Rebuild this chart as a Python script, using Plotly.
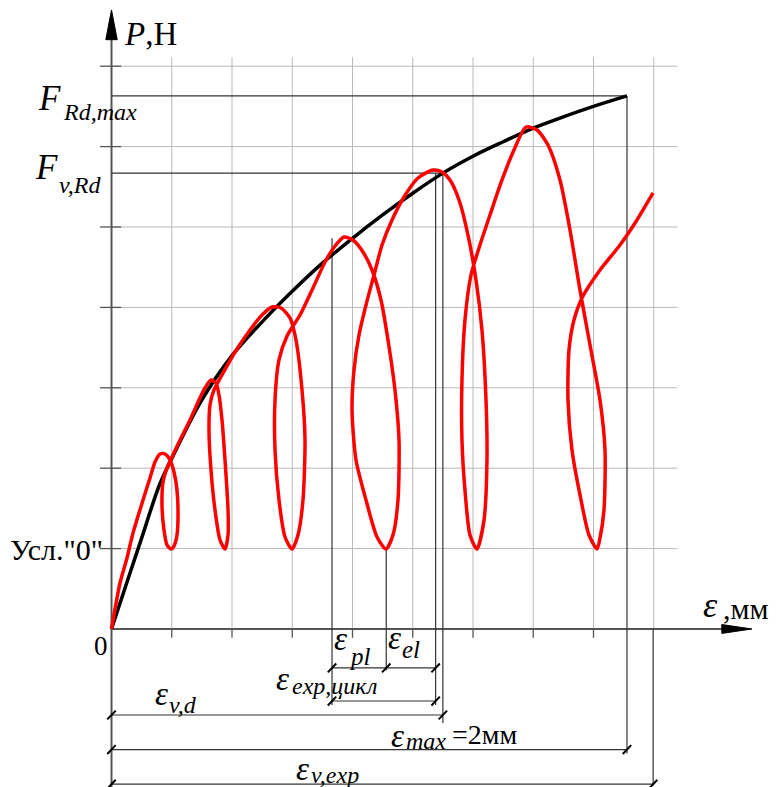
import plotly.graph_objects as go

# Chart units: 1 x-unit = one vertical grid step (deformation), 1 y-unit = one horizontal grid step (load)
black_x = [0, 0.3, 0.5, 0.8, 1.0, 1.5, 2.0, 2.5, 3.0, 3.5, 4.0, 4.5, 5.0, 5.5, 6.0, 6.5, 7.0, 7.5, 8.0, 8.556]
black_y = [0, 0.68, 1.13, 1.80, 2.12, 2.85, 3.40, 3.82, 4.20, 4.55, 4.86, 5.15, 5.42, 5.67, 5.88, 6.06, 6.23, 6.37, 6.50, 6.63]

red_x = [0, 0.141, 0.257, 0.357, 0.523, 0.639, 0.722, 0.805,
         0.888, 0.971, 1.037, 1.087, 1.104, 1.087, 1.037, 0.988,
         0.921, 0.871, 0.838, 0.855, 0.921, 1.004, 1.137, 1.303, 1.452, 1.552, 1.651,
         1.734, 1.784, 1.834, 1.884, 1.934, 1.934, 1.884,
         1.801, 1.718, 1.651, 1.618, 1.635, 1.701, 1.834, 2.050, 2.299, 2.498, 2.664,
         2.813, 2.963, 3.062, 3.162, 3.212, 3.178, 3.095, 2.996,
         2.880, 2.780, 2.714, 2.714, 2.780, 2.913, 3.129, 3.344, 3.544, 3.710, 3.859,
         4.008, 4.174, 4.324, 4.473, 4.589, 4.705, 4.772, 4.755, 4.672, 4.556,
         4.407, 4.224, 4.058, 3.992, 4.025, 4.108, 4.224, 4.357, 4.490, 4.656, 4.855, 5.087, 5.336,
         5.485, 5.618, 5.768, 5.917, 6.050, 6.149, 6.216, 6.232, 6.183, 6.066,
         5.950, 5.867, 5.817, 5.817, 5.867, 5.967, 6.116, 6.282, 6.481, 6.680, 6.880,
         7.062, 7.245, 7.444, 7.610, 7.776, 7.942, 8.108, 8.191, 8.174, 8.108, 8.058,
         7.925, 7.776, 7.643, 7.577, 7.593, 7.676, 7.809, 8.108, 8.440, 8.722, 8.988]
red_y = [0, 0.572, 0.883, 1.194, 1.604, 1.878, 2.077, 2.177,
         2.177, 2.102, 1.953, 1.729, 1.418, 1.169, 1.032, 0.995,
         1.045, 1.231, 1.542, 1.828, 2.002, 2.139, 2.351, 2.600, 2.848, 2.998, 3.097,
         3.060, 2.910, 2.600, 2.102, 1.480, 1.169, 0.995,
         1.107, 1.480, 1.978, 2.475, 2.786, 2.973, 3.159, 3.445, 3.719, 3.905, 4.005,
         3.993, 3.868, 3.595, 2.973, 2.351, 1.604, 1.169, 0.995,
         1.144, 1.604, 2.226, 2.848, 3.346, 3.644, 3.905, 4.241, 4.565, 4.764, 4.876,
         4.838, 4.689, 4.465, 4.092, 3.595, 2.973, 2.351, 1.604, 1.169, 0.995,
         1.144, 1.604, 2.102, 2.724, 3.221, 3.657, 4.030, 4.403, 4.776, 5.087, 5.373, 5.609, 5.709,
         5.684, 5.585, 5.336, 4.900, 4.341, 3.719, 2.848, 2.102, 1.356, 0.995,
         1.169, 1.729, 2.351, 3.097, 3.843, 4.403, 4.776, 5.149, 5.585, 5.958, 6.244,
         6.206, 6.020, 5.585, 4.963, 4.216, 3.532, 2.848, 2.226, 1.480, 1.132, 0.995,
         1.169, 1.667, 2.226, 2.848, 3.470, 3.843, 4.117, 4.465, 4.776, 5.087, 5.423]

grid_x = [1, 2, 3, 4, 5, 6, 7, 8, 9]
grid_y = [1, 2, 3, 4, 5, 6, 7]
x_tick_pos = [1, 2, 3, 4, 5, 6, 7, 8]
GRID_X_END = 9.39
GRID_Y_END = 7.11

F_RD_MAX = 6.63
F_V_RD = 5.67
USL_ZERO = 1.0
EPS_RD_MAX = 8.556
EPS_V_D = 5.50
EPS_CYC_END = 5.38
EPS_PL_START = 3.66
EPS_EL_START = 4.56
EPS_V_EXP = 8.99
PEAK4_LEVEL = 4.86

DIM_PL = -0.485
DIM_CYC = -0.896
DIM_VD = -1.07
DIM_MAX = -1.50
DIM_VEXP = -1.93

# page has an 8px body margin, ranges compensate so the drawing lands where the reference has it
X_MIN, X_MAX = -1.718, 11.245
Y_MIN, Y_MAX = -2.065, 7.724

SERIF = "Liberation Serif"

fig = go.Figure()

def seg_trace(segs, color, width):
    xs, ys = [], []
    for (x0, y0, x1, y1) in segs:
        xs += [x0, x1, None]
        ys += [y0, y1, None]
    return go.Scatter(x=xs, y=ys, mode="lines", line=dict(color=color, width=width),
                      hoverinfo="skip", showlegend=False)

# grid
grid_segs = [(gx, 0, gx, GRID_Y_END) for gx in grid_x] + [(0, gy, GRID_X_END, gy) for gy in grid_y]
fig.add_trace(seg_trace(grid_segs, "#b9b9b9", 1))

# axis ticks
tick_segs = [(-0.19, gy, 0.16, gy) for gy in grid_y] + [(gx, 0, gx, -0.11) for gx in x_tick_pos]
fig.add_trace(seg_trace(tick_segs, "#555555", 1.3))

# axes
ARROW_X_BASE, ARROW_X_TIP = 10.13, 10.63
ARROW_Y_BASE, ARROW_Y_TIP = 7.33, 7.70
axis_segs = [(0, 0, ARROW_X_BASE, 0), (0, Y_MIN, 0, ARROW_Y_BASE)]
fig.add_trace(seg_trace(axis_segs, "#555555", 2))
fig.add_trace(go.Scatter(x=[ARROW_X_BASE, ARROW_X_TIP, ARROW_X_BASE, ARROW_X_BASE],
                         y=[0.055, 0, -0.055, 0.055], mode="lines", fill="toself",
                         fillcolor="black", line=dict(color="black", width=1),
                         hoverinfo="skip", showlegend=False))
fig.add_trace(go.Scatter(x=[-0.095, 0, 0.095, -0.095],
                         y=[ARROW_Y_BASE, ARROW_Y_TIP, ARROW_Y_BASE, ARROW_Y_BASE], mode="lines",
                         fill="toself", fillcolor="black", line=dict(color="black", width=1),
                         hoverinfo="skip", showlegend=False))

# extension and dimension lines
ext = 0.05
dim_segs = [
    (0, F_RD_MAX, EPS_RD_MAX, F_RD_MAX),
    (0, F_V_RD, EPS_V_D, F_V_RD),
    (EPS_RD_MAX, F_RD_MAX, EPS_RD_MAX, DIM_MAX - ext),
    (EPS_V_D, F_V_RD, EPS_V_D, DIM_VD - 0.1),
    (EPS_CYC_END, F_V_RD, EPS_CYC_END, DIM_CYC - ext),
    (EPS_PL_START, PEAK4_LEVEL, EPS_PL_START, DIM_CYC - ext),
    (EPS_EL_START, USL_ZERO, EPS_EL_START, DIM_PL - 0.03),
    (EPS_V_EXP, 0, EPS_V_EXP, DIM_VEXP - 0.02),
    (EPS_PL_START, DIM_PL, EPS_CYC_END, DIM_PL),
    (EPS_PL_START, DIM_CYC, EPS_CYC_END, DIM_CYC),
    (0, DIM_VD, EPS_V_D, DIM_VD),
    (0, DIM_MAX, EPS_RD_MAX, DIM_MAX),
    (0, DIM_VEXP, EPS_V_EXP, DIM_VEXP),
]
fig.add_trace(seg_trace(dim_segs, "#333333", 1.2))

# slanted dimension ticks
tick_pts = [(EPS_PL_START, DIM_PL), (EPS_EL_START, DIM_PL), (EPS_CYC_END, DIM_PL),
            (EPS_PL_START, DIM_CYC), (EPS_CYC_END, DIM_CYC),
            (0, DIM_VD), (EPS_V_D, DIM_VD), (0, DIM_MAX), (EPS_RD_MAX, DIM_MAX),
            (0, DIM_VEXP), (EPS_V_EXP, DIM_VEXP)]
dx, dy = 0.07, 0.055
fig.add_trace(seg_trace([(px - dx, py - dy, px + dx, py + dy) for px, py in tick_pts], "black", 2))

# curves
fig.add_trace(go.Scatter(x=black_x, y=black_y, mode="lines",
                         line=dict(color="black", width=3.5, shape="spline", smoothing=1.0),
                         hoverinfo="skip", showlegend=False))
fig.add_trace(go.Scatter(x=red_x, y=red_y, mode="lines",
                         line=dict(color="#ff0000", width=3.5, shape="spline", smoothing=0.7),
                         hoverinfo="skip", showlegend=False))

# labels: (text, x, y, size, xanchor)
labels = [
    ("<i>P</i>,Н", 0.17, 7.40, 33, "left"),
    ("<i>F</i>", -1.037, 6.60, 35, "center"),
    ("<i>Rd,max</i>", -0.191, 6.43, 24, "center"),
    ("<i>F</i>", -1.087, 5.74, 35, "center"),
    ("<i>v,Rd</i>", -0.523, 5.52, 24, "center"),
    ("Усл.\"0\"", -0.10, 0.99, 30, "right"),
    ("0", -0.174, -0.211, 27, "center"),
    ("<i>ε</i>", 9.94, 0.30, 36, "center"),
    (",мм", 10.12, 0.25, 30, "left"),
    ("<i>ε</i>", 3.793, -0.12, 33, "center"),
    ("<i>pl</i>", 4.124, -0.348, 25, "center"),
    ("<i>ε</i>", 4.705, -0.11, 33, "center"),
    ("<i>el</i>", 4.971, -0.261, 25, "center"),
    ("<i>ε</i>", 2.846, -0.62, 33, "center"),
    ("<i>exp,цикл</i>", 3.693, -0.709, 24, "center"),
    ("<i>ε</i>", 0.838, -0.81, 33, "center"),
    ("<i>v,d</i>", 1.187, -0.945, 24, "center"),
    ("<i>ε</i>", 4.755, -1.33, 33, "center"),
    ("<i>max</i>", 5.220, -1.393, 24, "center"),
    ("=2мм", 6.20, -1.318, 28, "center"),
    ("<i>ε</i>", 3.178, -1.74, 33, "center"),
    ("<i>v,exp</i>", 3.710, -1.816, 24, "center"),
]
for text, lx, ly, size, anchor in labels:
    fig.add_annotation(x=lx, y=ly, text=text, showarrow=False, xanchor=anchor, yanchor="middle",
                       font=dict(family=SERIF, size=size, color="black"))

fig.update_layout(
    width=781, height=787, margin=dict(l=0, r=0, t=0, b=0),
    paper_bgcolor="white", plot_bgcolor="white", showlegend=False,
    xaxis=dict(range=[X_MIN, X_MAX], visible=False, fixedrange=True),
    yaxis=dict(range=[Y_MIN, Y_MAX], visible=False, fixedrange=True),
)
fig.write_html("out.html")
